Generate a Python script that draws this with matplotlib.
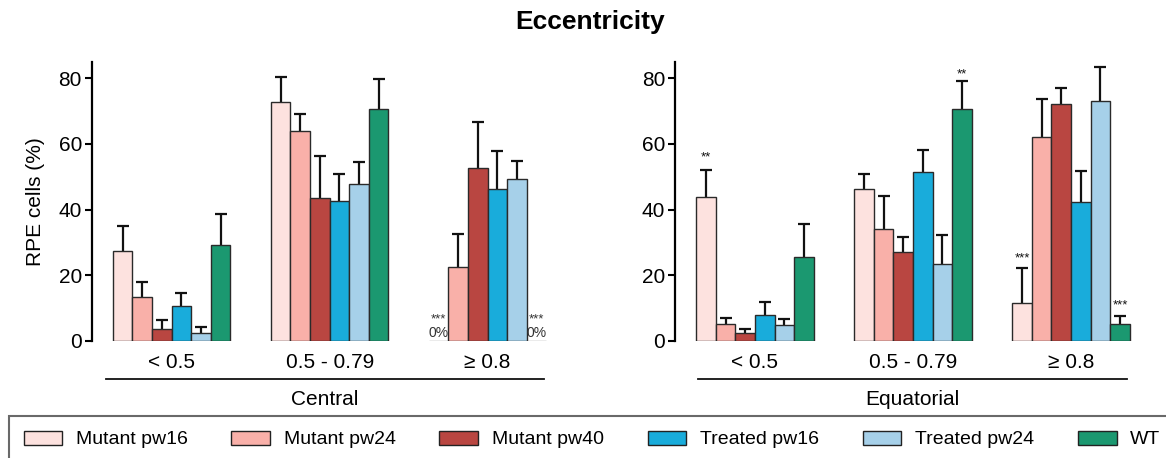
import numpy as np
import matplotlib
matplotlib.use('Agg')
import matplotlib.pyplot as plt
from matplotlib.patches import Patch

plt.rcParams['font.family'] = ['Liberation Sans', 'DejaVu Sans']

groups = ['< 0.5', '0.5 - 0.79', '≥ 0.8']
series = ['Mutant pw16', 'Mutant pw24', 'Mutant pw40', 'Treated pw16', 'Treated pw24', 'WT']
colors = ['#fde2df', '#f9b0a9', '#b94641', '#19acdb', '#a6d0e9', '#1b9870']

# mean % per group (rows) and series (columns), and top of error bar
central_mean = np.array([[27.4, 13.3, 3.6, 10.7, 2.5, 29.2],
                         [72.6, 63.8, 43.5, 42.6, 47.8, 70.7],
                         [0.0, 22.6, 52.7, 46.3, 49.3, 0.0]])
central_top = np.array([[35.1, 18.1, 6.4, 14.5, 4.4, 38.5],
                        [80.3, 69.0, 56.3, 50.9, 54.4, 79.7],
                        [0.0, 32.7, 66.5, 57.7, 54.9, 0.0]])
equat_mean = np.array([[43.8, 5.2, 2.3, 7.8, 5.0, 25.7],
                       [46.2, 34.2, 27.1, 51.5, 23.5, 70.7],
                       [11.5, 62.2, 72.1, 42.2, 73.1, 5.1]])
equat_top = np.array([[52.0, 6.9, 3.8, 11.9, 6.8, 35.7],
                      [50.7, 44.1, 31.7, 58.1, 32.4, 79.0],
                      [22.3, 73.5, 76.9, 51.7, 83.3, 7.7]])

# significance marks: (group, series, text, y)
central_marks = [(2, 0, '***', 6.6), (2, 5, '***', 6.6)]
central_zero = [(2, 0), (2, 5)]
equat_marks = [(0, 0, '**', 55.9), (1, 5, '**', 81.0), (2, 0, '***', 25.1), (2, 5, '***', 10.8)]

W, H = 1166, 458
fig = plt.figure(figsize=(W / 100, H / 100), dpi=100)

bw = 0.124
x = np.arange(len(groups))
offsets = (np.arange(len(series)) - 2.5) * bw


def panel(left_px, mean, top, marks, zeros, name, line_x0):
    ax = fig.add_axes([left_px / W, 1 - 341 / H, 468 / W, 279.3 / H])
    for j in range(len(series)):
        bars = ax.bar(x + offsets[j], mean[:, j], bw, color=colors[j],
                      edgecolor='#2a2a2a', linewidth=1.0, zorder=2)
        for b, v in zip(bars, mean[:, j]):
            if v == 0:
                b.set_edgecolor('#999999')
        keep = top[:, j] > mean[:, j]
        xs = (x + offsets[j])[keep]
        ax.vlines(xs, mean[keep, j], top[keep, j], color='#111111', lw=1.6, zorder=1)
        ax.plot(xs, top[keep, j], ls='none', marker='_', ms=8, mew=1.6,
                color='#111111', zorder=1)
    for g, s, t, yv in marks:
        ax.text(x[g] + offsets[s], yv, t, ha='center', va='center', fontsize=9.5,
                color='#333333' if (g, s) in zeros else '#111111')
    for g, s in zeros:
        ax.text(x[g] + offsets[s], 0.4, '0%', ha='center', va='bottom', fontsize=10,
                color='#333333')
    ax.set_xlim(-0.506, -0.506 + 468 / 158)
    ax.set_ylim(0, 85)
    ax.set_yticks([0, 20, 40, 60, 80])
    ax.set_xticks(x)
    ax.set_xticklabels(groups, fontsize=15)
    ax.tick_params(axis='x', length=0, pad=9)
    ax.tick_params(axis='y', labelsize=15, width=1.5, length=5, pad=2)
    for s in ['top', 'right', 'bottom']:
        ax.spines[s].set_visible(False)
    ax.spines['left'].set_linewidth(1.6)
    ax.plot([line_x0, 0.966], [-0.136, -0.136], transform=ax.transAxes,
            color='#111111', lw=1.3, clip_on=False)
    ax.text((line_x0 + 0.966) / 2, -0.211, name, transform=ax.transAxes,
            ha='center', va='center', fontsize=15)
    return ax


ax1 = panel(91.7, central_mean, central_top, central_marks, central_zero, 'Central', 0.03)
ax2 = panel(675, equat_mean, equat_top, equat_marks, [], 'Equatorial', 0.05)
ax1.set_ylabel('RPE cells (%)', fontsize=15)
ax1.yaxis.set_label_coords(-0.10, 0.5)

fig.text(0.506, 1 - 22 / H, 'Eccentricity', ha='center', va='center',
         fontsize=19, fontweight='bold')

handles = [Patch(facecolor=c, edgecolor='#222222', linewidth=1.0) for c in colors]
leg = fig.legend(handles, series, loc='upper left', ncol=6, mode='expand',
                 bbox_to_anchor=(9 / W, 1 - 416 / H, 1.0, 0), fontsize=14,
                 frameon=True, fancybox=False, edgecolor='#444444',
                 handlelength=2.0, handleheight=0.75, handletextpad=0.7,
                 borderpad=0.75, borderaxespad=0)
leg.get_frame().set_linewidth(1.5)

fig.savefig('out.png', dpi=100)
